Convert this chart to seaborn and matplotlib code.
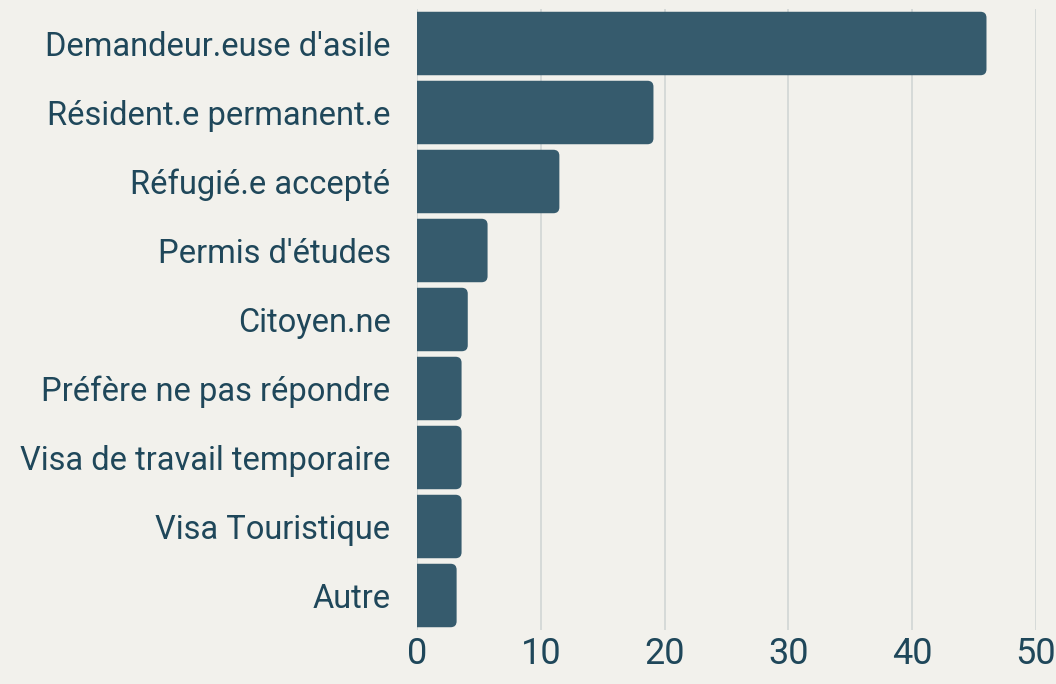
import matplotlib
matplotlib.use("Agg")
import pandas as pd
import seaborn as sns
from matplotlib import pyplot as plt
from matplotlib.patches import FancyBboxPatch

statuses = ["Demandeur.euse d'asile", "Résident.e permanent.e", "Réfugié.e accepté",
            "Permis d'études", "Citoyen.ne", "Préfère ne pas répondre",
            "Visa de travail temporaire", "Visa Touristique", "Autre"]
shares = [46.0, 19.1, 11.5, 5.7, 4.1, 3.6, 3.6, 3.6, 3.2]
x_ticks = [0, 10, 20, 30, 40, 50]

BG = "#f2f1ec"
BAR = "#365b6d"
TEXT = "#1f475a"
GRID = "#d3d8d6"


def round_bars(ax, radius_px=6):
    fig = ax.figure
    fig.canvas.draw()
    bbox = ax.get_window_extent()
    x0, x1 = ax.get_xlim()
    y0, y1 = ax.get_ylim()
    px_x = bbox.width / abs(x1 - x0)
    px_y = bbox.height / abs(y1 - y0)
    r = radius_px / px_x
    aspect = px_x / px_y
    for bar in list(ax.patches):
        x, y = bar.get_x(), bar.get_y()
        w, h = bar.get_width(), bar.get_height()
        bar.remove()
        rounded = FancyBboxPatch((x - r, y), w + r, h,
                                 boxstyle=f"round,pad=0,rounding_size={r}",
                                 mutation_aspect=aspect,
                                 facecolor=BAR, edgecolor="none", zorder=3)
        ax.add_patch(rounded)


def main():
    df = pd.DataFrame({"Statut": statuses, "Part": shares})

    sns.set_theme(style="white")
    plt.rcParams["font.family"] = ["Roboto", "DejaVu Sans"]

    fig = plt.figure(figsize=(10.56, 6.84), dpi=100, facecolor=BG)
    ax = fig.add_axes([417 / 1056, 1 - 630 / 684, 619 / 1056, 621 / 684])
    ax.set_facecolor(BG)

    sns.barplot(df, y="Statut", x="Part", color=BAR, width=0.92, saturation=1, ax=ax, zorder=3)

    ax.set_xlim(0, 50)
    ax.set_xticks(x_ticks)
    ax.set_xticklabels([str(t) for t in x_ticks], fontsize=26, color=TEXT)
    for lbl in ax.get_yticklabels():
        lbl.set_fontsize(23.5)
        lbl.set_color(TEXT)
    ax.tick_params(axis="y", length=0, pad=19)
    ax.tick_params(axis="x", length=0, pad=4)
    ax.set_xlabel("")
    ax.set_ylabel("")
    ax.grid(axis="x", color=GRID, linewidth=1.3, zorder=0)
    ax.set_axisbelow(True)
    for s in ax.spines.values():
        s.set_visible(False)

    round_bars(ax)

    fig.savefig("out.png", dpi=100, facecolor=BG)
    plt.close(fig)


if __name__ == "__main__":
    main()
